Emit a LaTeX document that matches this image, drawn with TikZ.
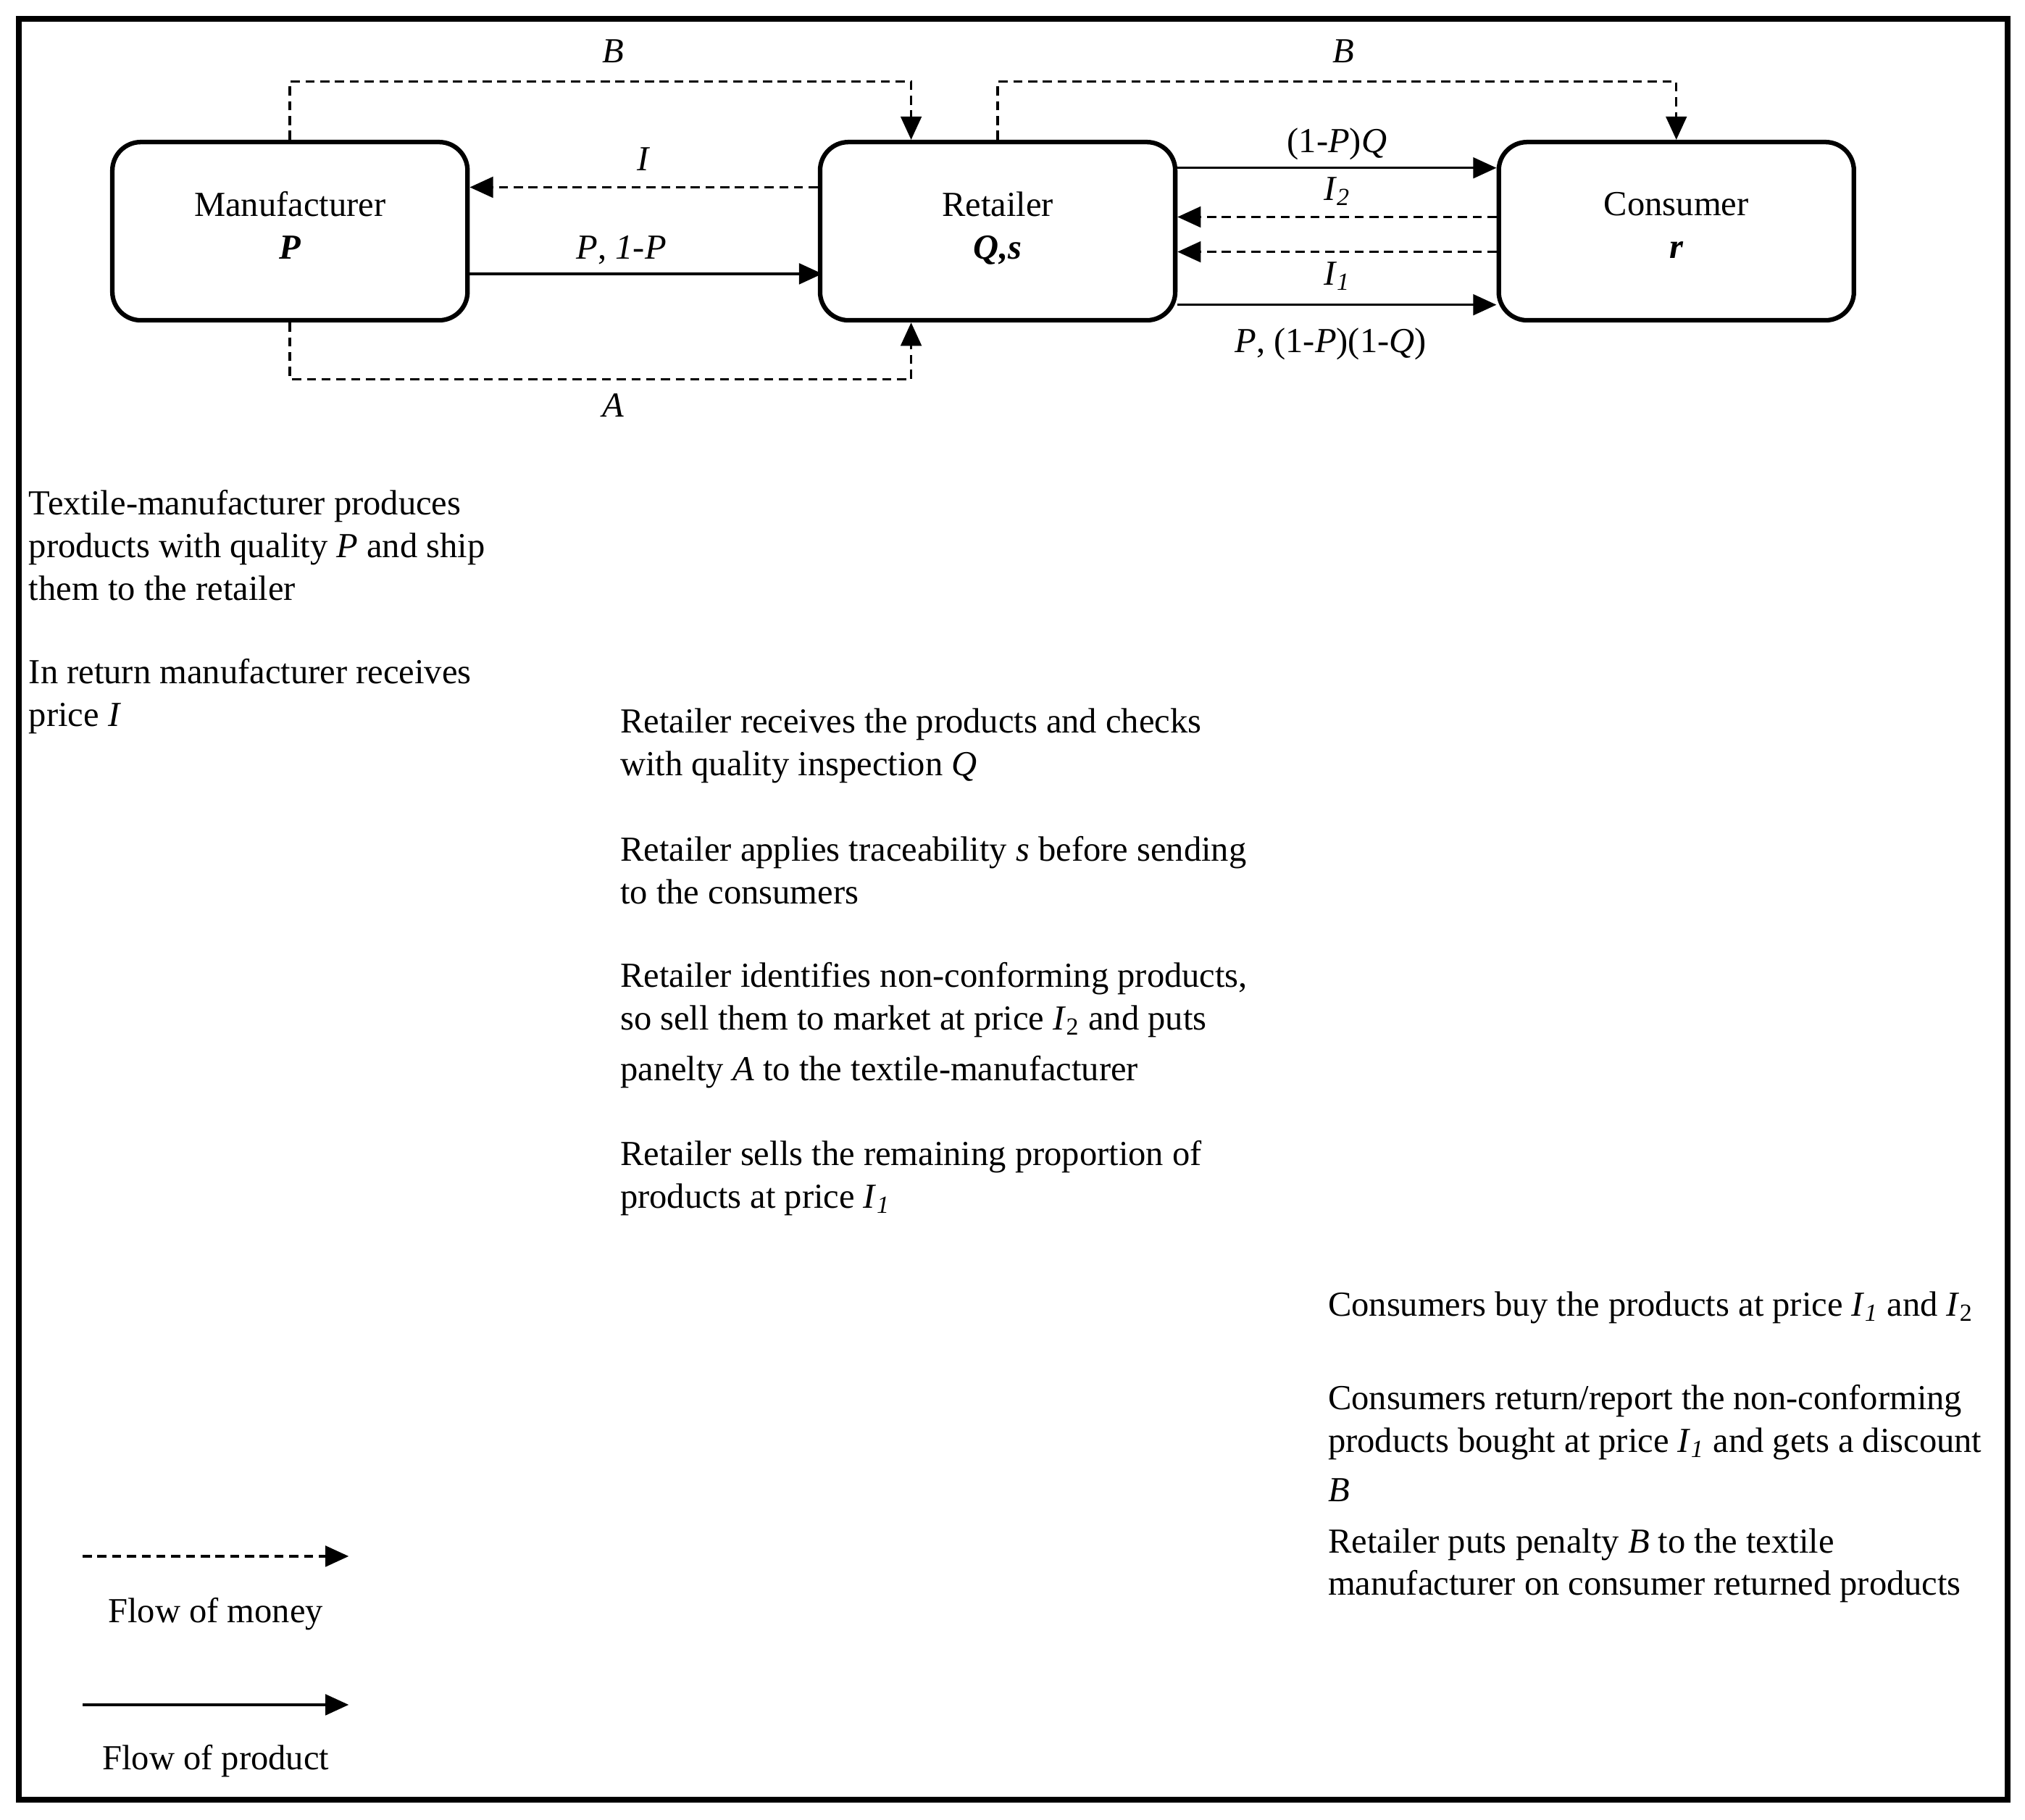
\documentclass[tikz,border=0pt]{standalone}
\usepackage{fontspec}
\setmainfont{Liberation Serif}
\usetikzlibrary{arrows.meta,positioning,calc}

\begin{document}
\begin{tikzpicture}[x=0.2mm, y=-0.2mm,
box/.style={
	draw,
	line width=2pt,
	rounded corners=0.44cm,
	minimum width=5.5cm,
	minimum height=2.76cm,
	align=center,
	font=\fontsize{15.5}{18.8}\selectfont
},
money/.style={
	line width=1.1pt,
	dash pattern=on 4pt off 2.5pt,
	-{Triangle[length=0.36cm, width=0.32cm]}
},
product/.style={
	line width=1.1pt,
	-{Triangle[length=0.36cm, width=0.32cm]}
},
note/.style={
	anchor=north west,
	inner sep=0pt,
	align=left,
	font=\fontsize{15.5}{18.8}\selectfont
},
lbl/.style={
	inner sep=0pt,
	font=\fontsize{15.5}{18.8}\selectfont
},
]

\useasboundingbox (0,0) rectangle (1568,1409);
\draw[line width=2.5pt] (14.5,14.5) rectangle (1554.5,1393.5);

\node[box] (M) at (224.5,179) {Manufacturer\\\textbf{\textit{P}}\rule[-5pt]{0pt}{0pt}};
\node[box] (R) at (772.5,179) {Retailer\\\textbf{\textit{Q,s}}\rule[-5pt]{0pt}{0pt}};
\node[box] (C) at (1298,179) {Consumer\\\textbf{\textit{r}}\rule[-5pt]{0pt}{0pt}};

% manufacturer <-> retailer
\draw[money] ($(R.west)+(0,-34)$) to node[lbl, midway, above=0.24cm] {\textit{I}} ($(M.east)+(0,-34)$);
\draw[product] ($(M.east)+(0,33)$) to node[lbl, pos=0.43, above=0.13cm] {\textit{P}, \textit{1-P}} ($(R.east)+(-275,33)$);
\draw[money] (M.north) -- ++(0,-45) -| node[lbl, pos=0.26, above=0.27cm] {\textit{B}} ($(R.north)+(-67,0)$);
\draw[money] (M.south) -- ++(0,44) -| node[lbl, pos=0.26, below=0.2cm] {\textit{A}} ($(R.south)+(-67,0)$);

% retailer <-> consumer
\draw[money] (R.north) -- ++(0,-45) -| node[lbl, pos=0.255, above=0.27cm] {\textit{B}} (C.north);
\draw[product] ($(R.east)+(0,-49)$) to node[lbl, midway, above=0.1cm] {(1-\textit{P})\textit{Q}} ($(C.west)+(0,-49)$);
\draw[money] ($(C.west)+(0,-11)$) to node[lbl, midway, above=0.16cm] {\textit{I}\textsubscript{\textit{2}}} ($(R.east)+(0,-11)$);
\draw[money] ($(C.west)+(0,16)$) to node[lbl, midway, below=0.14cm] {\textit{I}\textsubscript{\textit{1}}} ($(R.east)+(0,16)$);
\draw[product] ($(R.east)+(0,57)$) to node[lbl, pos=0.48, below=0.34cm] {\textit{P}, (1-\textit{P})(1-\textit{Q})} ($(C.west)+(0,57)$);

% notes
\node[note] (txtM1) at (22,379) {Textile-manufacturer produces\\products with quality \textit{P} and ship\\them to the retailer};
\node[note] (txtM2) at (22,510) {In return manufacturer receives\\price \textit{I}};
\node[note] (txtR1) at (480,548) {Retailer receives the products and checks\\with quality inspection \textit{Q}};
\node[note] (txtR2) at (480,647) {Retailer applies traceability \textit{s} before sending\\to the consumers};
\node[note] (txtR3) at (480,745) {Retailer identifies non-conforming products,\\so sell them to market at price \textit{I}\textsubscript{2} and puts\\[0.12cm]panelty \textit{A} to the textile-manufacturer};
\node[note] (txtR4) at (480,883) {Retailer sells the remaining proportion of\\products at price \textit{I}\textsubscript{\textit{1}}};
\node[note] (txtC1) at (1028,1000) {Consumers buy the products at price \textit{I}\textsubscript{\textit{1}} and \textit{I}\textsubscript{2}};
\node[note] (txtC2) at (1028,1072) {Consumers return/report the non-conforming\\products bought at price \textit{I}\textsubscript{\textit{1}} and gets a discount\\[0.1cm]\textit{B}};
\node[note] (txtC3) at (1028,1183) {Retailer puts penalty \textit{B} to the textile\\manufacturer on consumer returned products};

% legend
\coordinate (m0) at (64,1205);
\coordinate (m1) at (270,1205);
\coordinate (p0) at (64,1320);
\coordinate (p1) at (270,1320);
\draw[money] (m0) -- node[lbl, below=0.62cm] {Flow of money} (m1);
\draw[product] (p0) -- node[lbl, below=0.6cm] {Flow of product} (p1);

\end{tikzpicture}
\end{document}
